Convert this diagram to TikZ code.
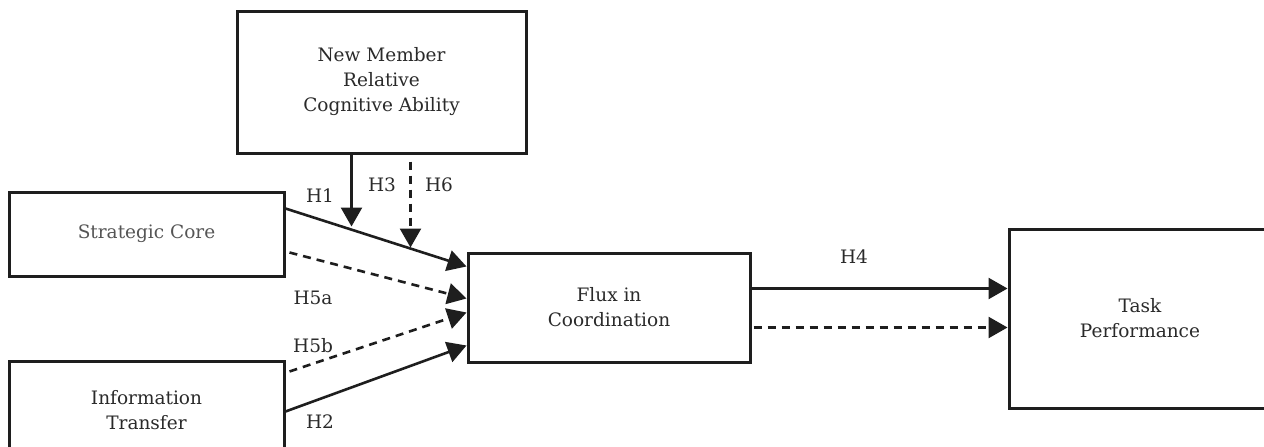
\documentclass[tikz,border=0pt]{standalone}
\usepackage{fontspec}
\setmainfont{DejaVu Serif}
\usetikzlibrary{arrows.meta,calc}
\definecolor{ink}{HTML}{1E1E1E}
\definecolor{txt}{HTML}{2A2A2A}
\definecolor{greytxt}{HTML}{555555}
\tikzset{
  box/.style={draw=ink, line width=3pt, fill=white, align=center, text=txt, inner sep=0pt,
    font=\fontsize{18.5}{25}\selectfont},
  lab/.style={text=txt, inner sep=0pt, font=\fontsize{18.5}{20}\selectfont},
  con/.style={draw=ink, line width=2.6pt, -{Triangle[length=19pt,width=21pt]}},
  dcon/.style={con, dash pattern=on 8pt off 6pt}
}
\begin{document}
\begin{tikzpicture}[x=1pt,y=-1pt]
\useasboundingbox (0,0) rectangle (1264,447);
\node[box, minimum width=289pt, minimum height=142pt] (nm) at (381.5,82) {New Member\\Relative\\Cognitive Ability};
\node[box, minimum width=275pt, minimum height=84pt, text=greytxt] (sc) at (146.5,234) {Strategic Core};
\node[box, minimum width=275pt, minimum height=98pt] (it) at (146.5,410) {Information\\Transfer};
\node[box, minimum width=282pt, minimum height=109pt] (fl) at (609,307.5) {Flux in\\Coordination};
\node[box, minimum width=262pt, minimum height=179pt] (tp) at (1140,318.5) {Task\\Performance};
\coordinate (h3end) at ($(nm.south west)+(116,72)$);
\coordinate (h6end) at ($(nm.south west)+(175,93)$);
\draw[con] ($(sc.north east)+(0,18)$) -- ($(fl.north west)+(0,15)$);
\draw[dcon] ($(sc.north east)+(4,62)$) -- ($(fl.north west)+(0,47)$);
\draw[dcon] ($(it.north east)+(4,12)$) -- ($(fl.north west)+(0,61)$);
\draw[con] ($(it.north east)+(0,52)$) -- ($(fl.north west)+(0,94)$);
\draw[con] ($(nm.south west)+(116,0)$) -- (h3end);
\draw[dcon] ($(nm.south west)+(175,7)$) -- (h6end);
\draw[con] ($(fl.north east)+(0,37)$) -- ($(tp.north west)+(0,61)$);
\draw[dcon] ($(fl.north east)+(2,76)$) -- ($(tp.north west)+(0,100)$);
\node[lab] (l1) at (320,196) {H1};
\node[lab] (l3) at (382,185) {H3};
\node[lab] (l6) at (439,185) {H6};
\node[lab] (l5a) at (313,298) {H5a};
\node[lab] (l5b) at (313,346) {H5b};
\node[lab] (l2) at (320,422) {H2};
\node[lab] (l4) at (854,257) {H4};
\end{tikzpicture}
\end{document}
